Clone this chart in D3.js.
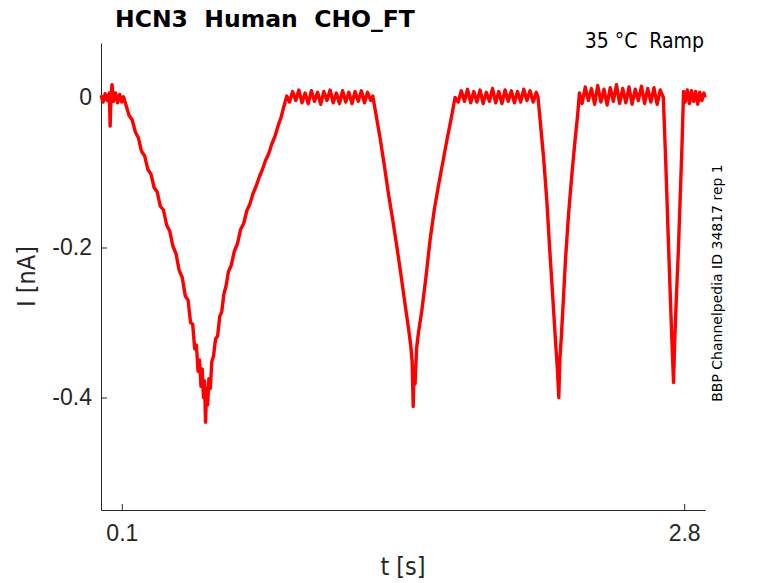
<!DOCTYPE html>
<html>
<head>
<meta charset="utf-8">
<script src="https://cdn.jsdelivr.net/npm/d3@7"></script>
<style>
  body { margin: 0; background: #fff; }
  svg { display: block; font-family: "DejaVu Sans Condensed", "DejaVu Sans", sans-serif; font-stretch: condensed; }
  .wide { font-family: "DejaVu Sans", sans-serif; font-stretch: normal; }
</style>
</head>
<body>
<svg id="chart" width="778" height="583"></svg>
<script>
// Trace: time [s] and current [nA], one overlaid ramp sweep
const timeBase1 = [0.000, 0.010, 0.020, 0.030, 0.040, 0.044, 0.048, 0.053, 0.060, 0.070, 0.080, 0.090, 0.100, 0.108];
const currBase1 = [0.003, -0.006, 0.005, -0.004, 0.006, -0.038, 0.002, 0.017, -0.005, 0.006, -0.007, 0.004, -0.006, 0.001];

const timeRamp1 = [0.120, 0.135, 0.150, 0.165, 0.180, 0.195, 0.210, 0.225, 0.240, 0.255, 0.270, 0.285, 0.300, 0.315, 0.330, 0.345, 0.360, 0.375, 0.390, 0.405, 0.418, 0.430, 0.440, 0.450, 0.458, 0.466, 0.473, 0.480, 0.486, 0.492, 0.497, 0.502, 0.507, 0.512, 0.518, 0.525, 0.532,
  0.540, 0.550, 0.560, 0.570, 0.580, 0.590, 0.600, 0.612, 0.625, 0.640, 0.655, 0.670, 0.685, 0.700, 0.715, 0.730, 0.745, 0.760, 0.775, 0.790, 0.805, 0.820, 0.835, 0.850, 0.865, 0.878, 0.892];
const currRamp1 = [-0.010, -0.024, -0.030, -0.046, -0.054, -0.072, -0.078, -0.096, -0.102, -0.120, -0.126, -0.145, -0.150, -0.170, -0.178, -0.198, -0.208, -0.230, -0.240, -0.265, -0.270, -0.300, -0.302, -0.335, -0.330, -0.365, -0.350, -0.385, -0.362, -0.400, -0.378, -0.433, -0.388, -0.410, -0.375, -0.388, -0.352,
  -0.345, -0.322, -0.318, -0.292, -0.285, -0.262, -0.252, -0.232, -0.224, -0.205, -0.195, -0.176, -0.168, -0.151, -0.142, -0.128, -0.118, -0.106, -0.096, -0.084, -0.075, -0.062, -0.052, -0.038, -0.026, -0.012, 0.002];

const timeBase2 = [0.905, 0.920, 0.935, 0.950, 0.965, 0.980, 0.995, 1.010, 1.025, 1.040, 1.055, 1.070, 1.085, 1.100, 1.115, 1.130, 1.145, 1.160, 1.175, 1.190, 1.205, 1.220, 1.235, 1.250, 1.265, 1.280, 1.295, 1.305];
const currBase2 = [-0.006, 0.008, -0.004, 0.010, -0.007, 0.006, -0.008, 0.009, -0.005, 0.007, -0.009, 0.008, -0.004, 0.010, -0.007, 0.006, -0.008, 0.009, -0.006, 0.007, -0.008, 0.008, -0.005, 0.009, -0.007, 0.007, -0.004, 0.002];

const timeRamp2 = [1.320, 1.340, 1.360, 1.380, 1.400, 1.420, 1.440, 1.460, 1.475, 1.487, 1.494, 1.499, 1.503, 1.508, 1.515, 1.525, 1.540, 1.560, 1.580, 1.600, 1.620, 1.640, 1.660, 1.680, 1.700];
const currRamp2 = [-0.022, -0.054, -0.090, -0.128, -0.162, -0.198, -0.236, -0.276, -0.305, -0.330, -0.352, -0.412, -0.360, -0.382, -0.335, -0.312, -0.285, -0.240, -0.190, -0.150, -0.118, -0.088, -0.058, -0.030, 0.000];

const timeBase3 = [1.715, 1.730, 1.745, 1.760, 1.775, 1.790, 1.805, 1.820, 1.835, 1.850, 1.865, 1.880, 1.895, 1.910, 1.925, 1.940, 1.955, 1.970, 1.985, 2.000, 2.015, 2.030, 2.045, 2.060, 2.075, 2.090, 2.098];
const currBase3 = [-0.006, 0.009, -0.005, 0.011, -0.007, 0.008, -0.006, 0.010, -0.008, 0.007, -0.005, 0.012, -0.007, 0.008, -0.008, 0.010, -0.005, 0.009, -0.007, 0.008, -0.006, 0.011, -0.004, 0.009, -0.006, 0.007, 0.001];

const timeRamp3 = [2.110, 2.125, 2.140, 2.155, 2.170, 2.183, 2.192, 2.198, 2.203, 2.210, 2.220, 2.230, 2.245, 2.260, 2.275, 2.288, 2.297];
const currRamp3 = [-0.035, -0.080, -0.135, -0.205, -0.270, -0.328, -0.365, -0.400, -0.350, -0.320, -0.270, -0.217, -0.155, -0.105, -0.060, -0.025, 0.006];

const timeBase4 = [2.310, 2.325, 2.340, 2.355, 2.370, 2.385, 2.400, 2.415, 2.430, 2.445, 2.460, 2.475, 2.490, 2.505, 2.520, 2.535, 2.550, 2.565, 2.580, 2.595, 2.610, 2.625, 2.640, 2.655, 2.670, 2.685, 2.697];
const currBase4 = [-0.008, 0.014, -0.004, 0.012, -0.009, 0.016, -0.006, 0.011, -0.010, 0.013, -0.005, 0.017, -0.008, 0.012, -0.007, 0.014, -0.009, 0.011, -0.004, 0.015, -0.008, 0.012, -0.006, 0.013, -0.009, 0.010, 0.002];

const timeRamp4 = [2.700, 2.712, 2.724, 2.736, 2.744, 2.749, 2.754, 2.762, 2.772, 2.782, 2.790, 2.797];
const currRamp4 = [0.000, -0.090, -0.190, -0.285, -0.345, -0.380, -0.330, -0.270, -0.205, -0.125, -0.060, 0.008];

const timeBase5 = [2.805, 2.815, 2.825, 2.835, 2.845, 2.855, 2.865, 2.875, 2.885, 2.895, 2.900];
const currBase5 = [-0.006, 0.010, -0.008, 0.009, -0.005, 0.008, -0.009, 0.007, -0.004, 0.006, 0.000];

// Axis ticks
const xTicks = [0.1, 2.8];
const xTickLabels = ['0.1', '2.8'];
const yTicks = [0, -0.2, -0.4];
const yTickLabels = ['0', '-0.2', '-0.4'];

// Put the pieces together into one trace
const timeAll = [].concat(timeBase1, timeRamp1, timeBase2, timeRamp2, timeBase3, timeRamp3, timeBase4, timeRamp4, timeBase5);
const currAll = [].concat(currBase1, currRamp1, currBase2, currRamp2, currBase3, currRamp3, currBase4, currRamp4, currBase5);
const trace = timeAll.map((t, i) => ({ t: t, I: currAll[i] }));

const margin = { top: 43, right: 73, bottom: 73, left: 101 };
const width = 778 - margin.left - margin.right;
const height = 583 - margin.top - margin.bottom;
const axisColor = '#262626';

const svg = d3.select('#chart');
const g = svg.append('g')
    .attr('transform', `translate(${margin.left},${margin.top})`);

const xScale = d3.scaleLinear().domain([0, 2.9]).range([0, width]);
const yScale = d3.scaleLinear().domain([-0.55, 0.0727]).range([height, 0]);

// x axis (ticks point inward)
const xAxis = g.append('g')
    .attr('transform', `translate(0,${height})`)
    .call(d3.axisBottom(xScale)
        .tickValues(xTicks)
        .tickFormat((d, i) => xTickLabels[i])
        .tickSizeInner(-6)
        .tickSizeOuter(0)
        .tickPadding(15));

// y axis
const yAxis = g.append('g')
    .call(d3.axisLeft(yScale)
        .tickValues(yTicks)
        .tickFormat((d, i) => yTickLabels[i])
        .tickSizeInner(-6)
        .tickSizeOuter(0)
        .tickPadding(9));

[xAxis, yAxis].forEach(a => {
    a.select('.domain').attr('stroke', axisColor).attr('stroke-width', 1);
    a.selectAll('.tick line').attr('stroke', axisColor).attr('stroke-width', 1);
    a.selectAll('.tick text')
        .attr('fill', axisColor)
        .style('font-size', '23px')
        .style('font-family', null);
});

// the trace
const line = d3.line()
    .x(d => xScale(d.t))
    .y(d => yScale(d.I));

g.append('path')
    .datum(trace)
    .attr('fill', 'none')
    .attr('stroke', '#ff0000')
    .attr('stroke-width', 3.4)
    .attr('stroke-linejoin', 'round')
    .attr('d', line);

// labels
svg.append('text')
    .attr('x', margin.left + width / 2)
    .attr('y', 575)
    .attr('text-anchor', 'middle')
    .attr('fill', axisColor)
    .style('font-size', '25px')
    .text('t [s]');

svg.append('text')
    .attr('transform', `translate(35,${margin.top + height / 2}) rotate(-90)`)
    .attr('text-anchor', 'middle')
    .attr('fill', axisColor)
    .style('font-size', '25px')
    .text('I [nA]');

svg.append('text')
    .attr('class', 'wide')
    .attr('x', 115)
    .attr('y', 27)
    .attr('fill', '#000')
    .style('font-size', '23.5px')
    .style('font-weight', 'bold')
    .text('HCN3\u00a0\u00a0Human\u00a0\u00a0CHO_FT');

svg.append('text')
    .attr('x', 704)
    .attr('y', 48)
    .attr('text-anchor', 'end')
    .attr('fill', '#000')
    .style('font-size', '21px')
    .text('35 °C\u00a0\u00a0Ramp');

svg.append('text')
    .attr('class', 'wide')
    .attr('transform', 'translate(722,283) rotate(-90)')
    .attr('text-anchor', 'middle')
    .attr('fill', '#000')
    .style('font-size', '14px')
    .text('BBP Channelpedia ID 34817 rep 1');
</script>
</body>
</html>
